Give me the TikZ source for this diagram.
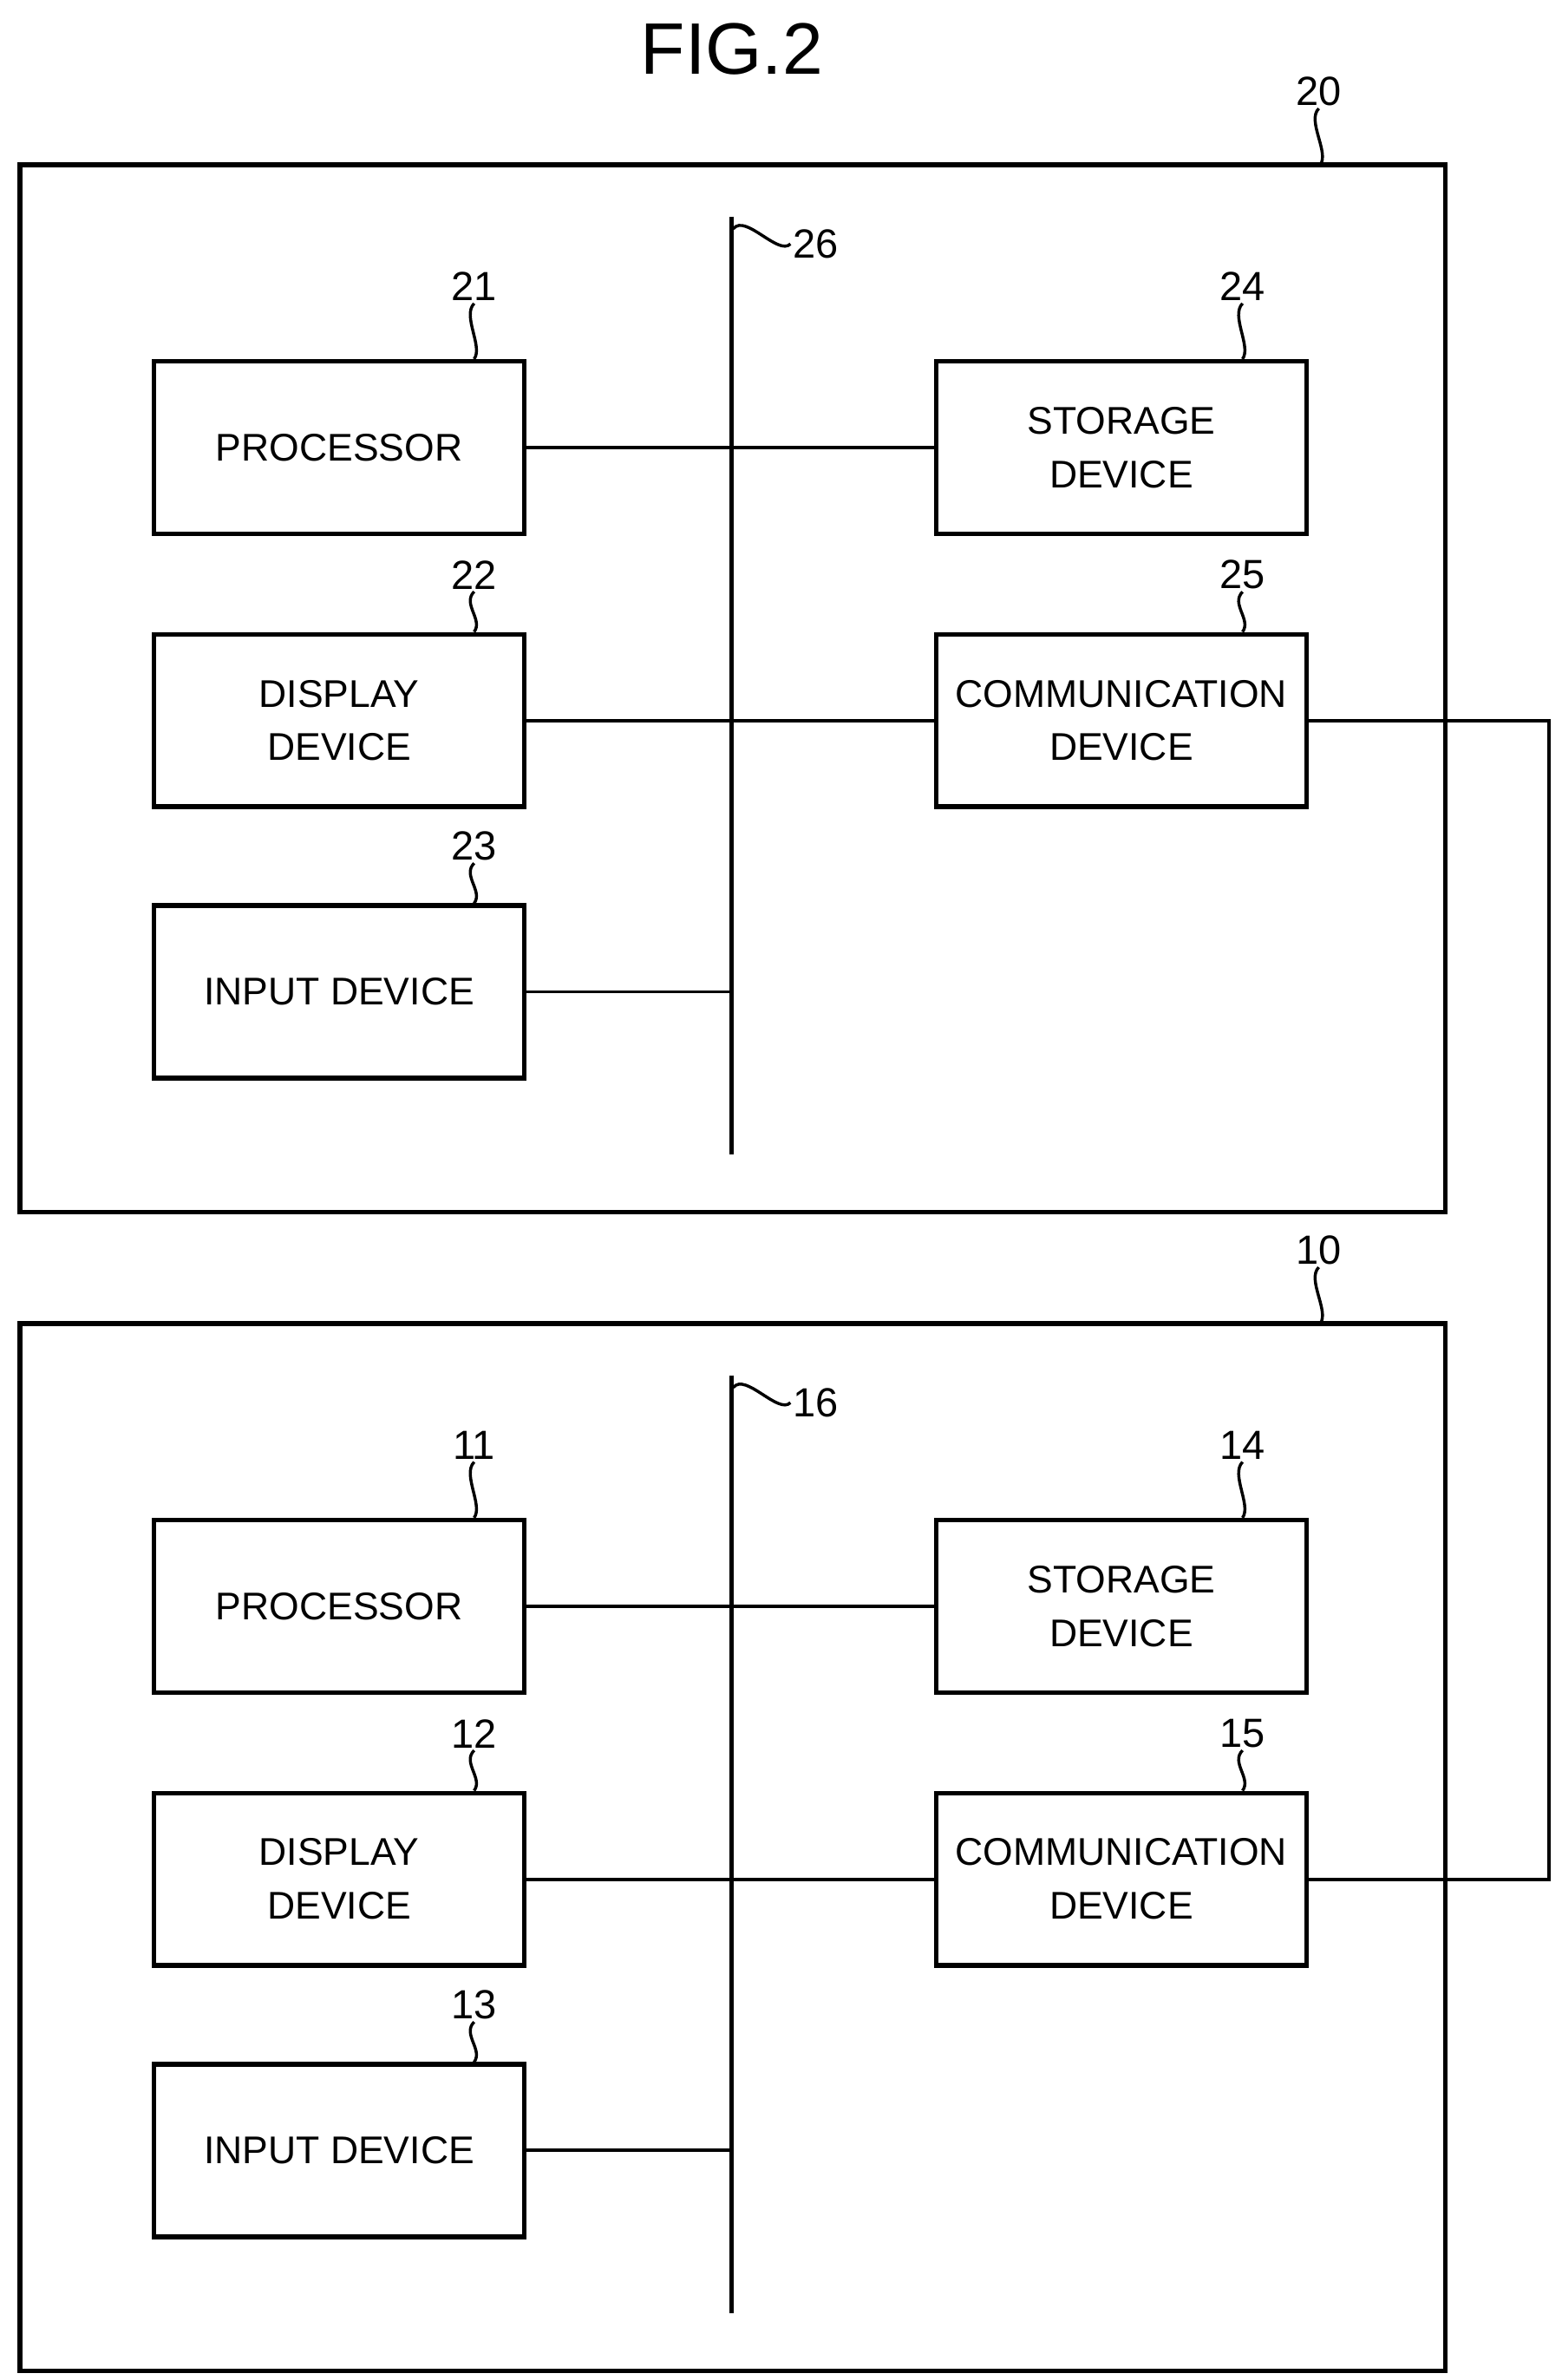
\documentclass[tikz,border=0pt]{standalone}
\usepackage{fontspec}
\setmainfont{Liberation Sans}
\usetikzlibrary{positioning}
\tikzset{
  block/.style={rectangle, draw, line width=2.2pt, minimum width=6.075cm, minimum height=2.825cm, align=center, font=\fontsize{18}{25}\selectfont, inner sep=0pt},
  unit/.style={draw, line width=2.2pt},
  bus/.style={line width=2.2pt},
  line/.style={draw, line width=1.6pt},
  refnum/.style={font=\fontsize{19}{22}\selectfont, inner sep=1pt},
  lead/.style={line width=1.4pt}
}
\begin{document}
\begin{tikzpicture}[x=0.025cm, y=-0.025cm]
    \useasboundingbox (0,0) rectangle (1024,1561);
    \node [font=\fontsize{34}{36}\selectfont] (title) at (480,32) {FIG.2};

    \foreach \u/\dy in {2/0, 1/760} {
        % Place unit frame and bus
        \draw [unit] (13,108+\dy) rectangle (948,795+\dy);
        \node [refnum] (ref\u0) at (865,60+\dy) {\u0};
        \draw [lead] (ref\u0.south) .. controls +(-8,8) and +(6,-8) .. (866,108+\dy);
        \coordinate (bustop\u) at (480,142+\dy);
        \coordinate (busbot\u) at (480,757+\dy);
        \draw [bus] (bustop\u) -- (busbot\u);
        \node [refnum] (ref\u6) at (535,160+\dy) {\u6};
        \draw [lead] (481,150+\dy) .. controls +(8,-10) and +(-8,8) .. (ref\u6.west);

        % Place nodes
        \node [block] (proc\u) at (222.5,293.5+\dy) {PROCESSOR};
        \node [block] (disp\u) at (222.5,472.5+\dy) {DISPLAY\\DEVICE};
        \node [block] (inp\u)  at (222.5,650.5+\dy) {INPUT DEVICE};
        \node [block] (stor\u) at (735.5,293.5+\dy) {STORAGE\\DEVICE};
        \node [block] (comm\u) at (735.5,472.5+\dy) {COMMUNICATION\\DEVICE};

        \node [refnum] (ref\u1) at (311,188+\dy) {\u1};
        \node [refnum] (ref\u2) at (311,377+\dy) {\u2};
        \node [refnum] (ref\u3) at (311,555+\dy) {\u3};
        \node [refnum] (ref\u4) at (815,188+\dy) {\u4};
        \node [refnum] (ref\u5) at (815,377+\dy) {\u5};
        \foreach \r/\b in {1/proc, 2/disp, 3/inp, 4/stor, 5/comm}
            \draw [lead] (ref\u\r.south) .. controls +(-8,8) and +(6,-8) .. (\b\u.north -| ref\u\r.south);

        % Draw edges
        \path [line] (proc\u) -- (stor\u);
        \path [line] (disp\u) -- (comm\u);
        \path [line] (inp\u.east) -- (inp\u.east -| bustop\u);
    }
    \coordinate (turn) at (1016,0);
    \path [line] (comm2.east) -- (comm2.east -| turn) -- (comm1.east -| turn) -- (comm1.east);
\end{tikzpicture}
\end{document}
